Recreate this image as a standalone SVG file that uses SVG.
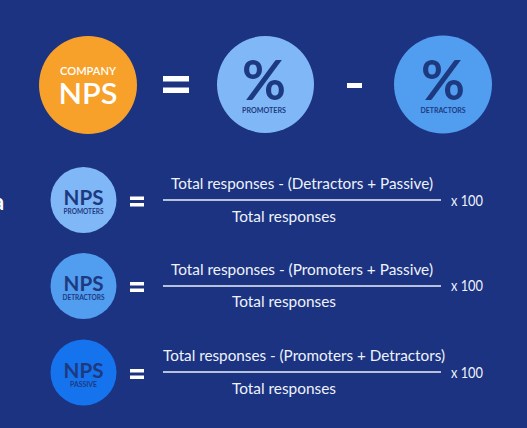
<svg xmlns="http://www.w3.org/2000/svg" width="527" height="428" viewBox="0 0 527 428">
<style>
  text { font-family: "Lato", "Liberation Sans", sans-serif; }
  .d { fill: #1d3a80; font-weight: 700; text-anchor: middle; }
  .f { fill: #eef2fb; font-size: 15px; text-anchor: middle; }
  .x { fill: #eef2fb; font-size: 15px; }
  .line { stroke: #eef2fb; stroke-width: 1.6; }
</style>
<rect x="0" y="0" width="527" height="428" fill="#1b3381"/>
<text x="-7" y="210" font-size="22" font-weight="700" fill="#ffffff">a</text>

<g id="company-nps">
  <circle cx="88" cy="85" r="49" fill="#f7a12b"/>
  <text x="88" y="75" font-size="12" font-weight="600" fill="#ffffff" text-anchor="middle" textLength="56" lengthAdjust="spacingAndGlyphs">COMPANY</text>
  <text x="88" y="103.5" font-size="28" font-weight="600" fill="#ffffff" text-anchor="middle" textLength="59" lengthAdjust="spacingAndGlyphs">NPS</text>
</g>

<g id="eq-top">
  <rect x="163" y="76" width="26" height="5.5" fill="#ffffff"/>
  <rect x="163" y="87.5" width="26" height="5.5" fill="#ffffff"/>
</g>

<g id="promoters-pct">
  <circle cx="265.5" cy="84.5" r="48.5" fill="#80b8f7"/>
  <text class="d" x="264" y="99.5" font-size="56" textLength="44" lengthAdjust="spacingAndGlyphs">%</text>
  <text class="d" x="264" y="113" font-size="7.5" textLength="44" lengthAdjust="spacingAndGlyphs">PROMOTERS</text>
</g>

<g id="minus">
  <rect x="347" y="83" width="15" height="5" fill="#ffffff"/>
</g>

<g id="detractors-pct">
  <circle cx="443" cy="84.5" r="49" fill="#519df0"/>
  <text class="d" x="443" y="99.5" font-size="56" textLength="44" lengthAdjust="spacingAndGlyphs">%</text>
  <text class="d" x="443" y="113" font-size="7.5" textLength="45" lengthAdjust="spacingAndGlyphs">DETRACTORS</text>
</g>

<g id="nps-promoters">
  <circle cx="83.5" cy="200" r="33" fill="#80b8f7"/>
  <text class="d" x="83.5" y="205" font-size="21" textLength="40" lengthAdjust="spacingAndGlyphs">NPS</text>
  <text class="d" x="83.5" y="214" font-size="6.5" textLength="40" lengthAdjust="spacingAndGlyphs">PROMOTERS</text>
</g>
<g id="nps-detractors">
  <circle cx="83.5" cy="286" r="33" fill="#519df0"/>
  <text class="d" x="83.5" y="291" font-size="21" textLength="40" lengthAdjust="spacingAndGlyphs">NPS</text>
  <text class="d" x="83.5" y="300" font-size="6.5" textLength="42" lengthAdjust="spacingAndGlyphs">DETRACTORS</text>
</g>
<g id="nps-passive">
  <circle cx="83.5" cy="372.5" r="33" fill="#1673ee"/>
  <text class="d" x="83.5" y="377.5" font-size="21" textLength="40" lengthAdjust="spacingAndGlyphs">NPS</text>
  <text class="d" x="83.5" y="386.5" font-size="6.5" textLength="27" lengthAdjust="spacingAndGlyphs">PASSIVE</text>
</g>

<g id="formula-promoters">
  <rect x="130" y="196.5" width="14" height="3.5" fill="#ffffff"/>
  <rect x="130" y="203" width="14" height="3.5" fill="#ffffff"/>
  <text class="f" x="302" y="189" textLength="262" lengthAdjust="spacingAndGlyphs">Total responses - (Detractors + Passive)</text>
  <text class="f" x="284" y="222" textLength="104" lengthAdjust="spacingAndGlyphs">Total responses</text>
  <text class="x" x="451" y="206" textLength="32" lengthAdjust="spacingAndGlyphs">x 100</text>
</g>
<g id="formula-detractors">
  <rect x="130" y="282" width="14" height="3.5" fill="#ffffff"/>
  <rect x="130" y="288.5" width="14" height="3.5" fill="#ffffff"/>
  <text class="f" x="302" y="275" textLength="262" lengthAdjust="spacingAndGlyphs">Total responses - (Promoters + Passive)</text>
  <text class="f" x="284" y="307" textLength="104" lengthAdjust="spacingAndGlyphs">Total responses</text>
  <text class="x" x="451" y="291" textLength="32" lengthAdjust="spacingAndGlyphs">x 100</text>
</g>
<g id="formula-passive">
  <rect x="130" y="369" width="14" height="3.5" fill="#ffffff"/>
  <rect x="130" y="375.5" width="14" height="3.5" fill="#ffffff"/>
  <text class="f" x="304" y="361" textLength="282" lengthAdjust="spacingAndGlyphs">Total responses - (Promoters + Detractors)</text>
  <text class="f" x="284" y="394" textLength="104" lengthAdjust="spacingAndGlyphs">Total responses</text>
  <text class="x" x="451" y="378" textLength="32" lengthAdjust="spacingAndGlyphs">x 100</text>
</g>

<g id="connectors">
  <line class="line" x1="163" y1="200" x2="441" y2="200"/>
  <line class="line" x1="163" y1="286" x2="441" y2="286"/>
  <line class="line" x1="163" y1="372" x2="441" y2="372"/>
</g>
</svg>
